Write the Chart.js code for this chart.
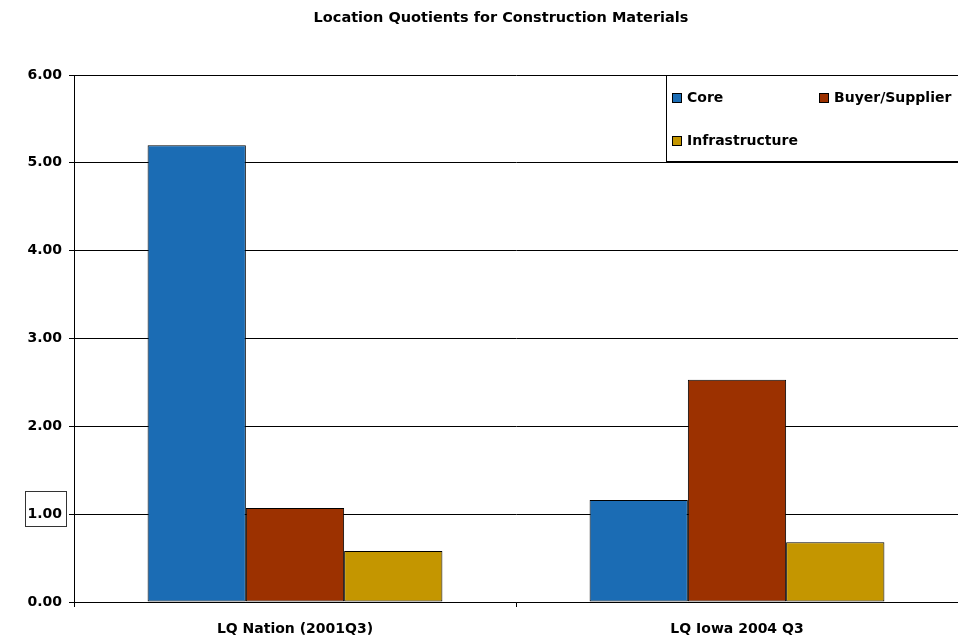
<!DOCTYPE html>
<html>
<head>
<meta charset="utf-8">
<script src="https://cdn.jsdelivr.net/npm/chart.js@4"></script>
<style>
  html, body { margin: 0; padding: 0; background: #fff; }
  #wrap { width: 958px; height: 639px; }
</style>
</head>
<body>
<div id="wrap"><canvas id="chart" width="958" height="639"></canvas></div>
<script>
"use strict";

const titleText = "Location Quotients for Construction Materials";
const categories = ["LQ Nation (2001Q3)", "LQ Iowa 2004 Q3"];
const seriesNames = ["Core", "Buyer/Supplier", "Infrastructure"];
const coreValues = [5.20, 1.16];
const buyerValues = [1.07, 2.53];
const infraValues = [0.58, 0.68];
const yTicks = [0, 1, 2, 3, 4, 5, 6];
const colors = ["#1b6cb4", "#9c3100", "#c49600"];

const font = "'DejaVu Sans', Verdana, sans-serif";

// title, legend box and the framed "1.00" label
const decor = {
  id: "decor",
  afterDraw(chart) {
    const { ctx, chartArea, scales } = chart;
    ctx.save();
    ctx.fillStyle = "#000";
    ctx.font = "bold 14.5px " + font;
    ctx.textAlign = "center";
    ctx.textBaseline = "middle";
    ctx.fillText(titleText, 501, 18);
    ctx.textAlign = "left";

    // framed 1.00 tick label
    const y1 = scales.y.getPixelForValue(1);
    ctx.strokeStyle = "#333";
    ctx.lineWidth = 1;
    ctx.strokeRect(25.5, Math.round(y1) - 22.5, 41, 35);

    // legend box
    const lx = 666.5, ly = chartArea.top + 0.5, lw = 300, lh = 86;
    ctx.fillStyle = "#fff";
    ctx.fillRect(lx, ly, lw, lh);
    ctx.strokeStyle = "#000";
    ctx.strokeRect(lx, ly, lw, lh);
    const items = [
      [672, 98], [819, 98], [672, 141],
    ];
    ctx.font = "bold 14px " + font;
    chart.data.datasets.forEach((ds, i) => {
      const [x, y] = items[i];
      ctx.fillStyle = ds.backgroundColor;
      ctx.fillRect(x, y - 5, 9, 9);
      ctx.strokeStyle = "#000";
      ctx.strokeRect(x + 0.5, y - 4.5, 9, 9);
      ctx.fillStyle = "#000";
      ctx.fillText(ds.label, x + 15, y);
    });
    ctx.restore();
  },
};

new Chart(document.getElementById("chart"), {
  type: "bar",
  data: {
    labels: categories,
    datasets: [
      { label: seriesNames[0], data: coreValues, backgroundColor: colors[0] },
      { label: seriesNames[1], data: buyerValues, backgroundColor: colors[1] },
      { label: seriesNames[2], data: infraValues, backgroundColor: colors[2] },
    ].map((d) => ({
      ...d,
      borderColor: "#000",
      borderWidth: 1,
      borderSkipped: false,
      categoryPercentage: 0.667,
      barPercentage: 1,
    })),
  },
  options: {
    responsive: false,
    animation: false,
    layout: { padding: { left: 0, right: -1, top: 75, bottom: 0 } },
    plugins: {
      legend: { display: false },
      tooltip: { enabled: false },
      title: { display: false },
    },
    scales: {
      x: {
        offset: true,
        grid: { offset: true, drawOnChartArea: false, color: "#000", tickLength: 5 },
        border: { color: "#000", width: 1 },
        ticks: { color: "#000", font: { family: font, size: 14, weight: "bold" }, padding: 14, maxRotation: 0 },
        afterFit(scale) { scale.height = 37; },
      },
      y: {
        min: 0,
        max: 6,
        afterBuildTicks(scale) { scale.ticks = yTicks.map((v) => ({ value: v })); },
        grid: { color: "#000", tickLength: 5 },
        border: { color: "#000", width: 1 },
        ticks: {
          color: "#000",
          padding: 7,
          font: { family: font, size: 14, weight: "bold" },
          callback: (v) => Number(v).toFixed(2),
        },
        afterFit(scale) { scale.width = 74; },
      },
    },
  },
  plugins: [decor],
});
</script>
</body>
</html>
